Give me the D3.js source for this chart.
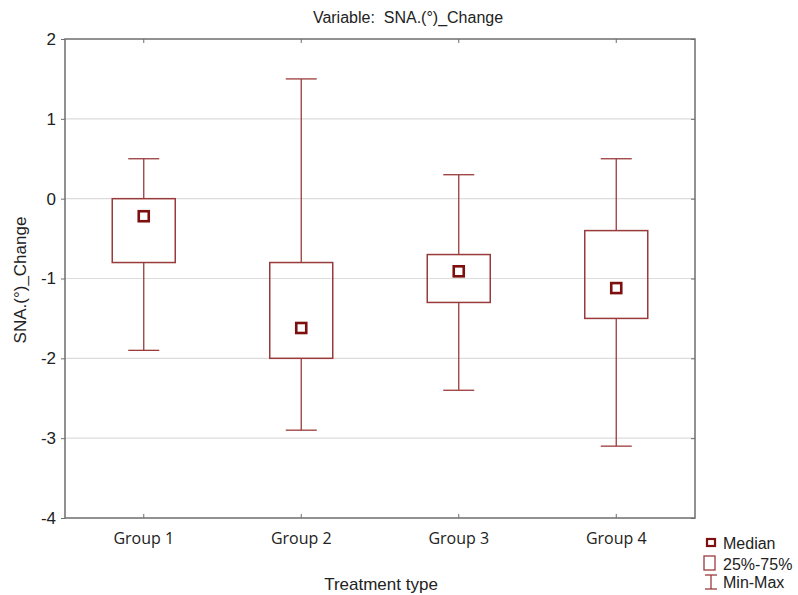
<!DOCTYPE html>
<html><head><meta charset="utf-8">
<script src="https://cdn.jsdelivr.net/npm/d3@7"></script>
<style>body{margin:0;background:#fff} text{white-space:pre}</style>
</head><body>
<svg id="c" width="798" height="595"></svg>
<script>
const categories = ["Group 1", "Group 2", "Group 3", "Group 4"];
const minVals    = [-1.9, -2.9, -2.4, -3.1];
const q1Vals     = [-0.8, -2.0, -1.3, -1.5];
const medianVals = [-0.22, -1.62, -0.91, -1.12];
const q3Vals     = [0.0, -0.8, -0.7, -0.4];
const maxVals    = [0.5, 1.5, 0.3, 0.5];
const yTicks     = [2, 1, 0, -1, -2, -3, -4];

const svg = d3.select("#c");
const L = 65, R = 695, T = 39, B = 518;
const x = d3.scaleBand().domain(categories).range([L, R]).padding(0);
const y = d3.scaleLinear().domain([-4, 2]).range([B, T]);
const col = "#9a3b3b", dark = "#7d0f0f";
const sans = "'Liberation Sans', Arial, sans-serif";

// gridlines
svg.append("g").selectAll("line").data(yTicks.filter(d => d > -4 && d < 2)).join("line")
  .attr("x1", L).attr("x2", R).attr("y1", d => y(d)).attr("y2", d => y(d))
  .attr("stroke", "#dcdcdc").attr("stroke-width", 1.2);

// axes
const fr = "#6e6e6e";
const gl = svg.append("g").attr("transform", `translate(${L},0)`)
  .call(d3.axisLeft(y).tickValues(yTicks).tickSize(4).tickPadding(5).tickFormat(d => String(d)));
const gr = svg.append("g").attr("transform", `translate(${R},0)`)
  .call(d3.axisLeft(y).tickValues(yTicks).tickSize(4).tickFormat(""));
const gt = svg.append("g").attr("transform", `translate(0,${T})`)
  .call(d3.axisBottom(x).tickSize(4).tickFormat(""));
const gb = svg.append("g").attr("transform", `translate(0,${B})`)
  .call(d3.axisTop(x).tickSize(4).tickFormat(""));
[gl, gr, gt, gb].forEach(g => {
  g.select(".domain").remove();
  g.selectAll("line").attr("stroke", fr);
});
gl.selectAll("text").attr("font-family", sans).attr("font-size", 17).attr("fill", "#222");
// frame
svg.append("rect").attr("x", L).attr("y", T).attr("width", R - L).attr("height", B - T)
  .attr("fill", "none").attr("stroke", fr).attr("stroke-width", 1.5);

// category labels
svg.append("g").selectAll("text").data(categories).join("text")
  .attr("x", d => x(d) + x.bandwidth() / 2).attr("y", 544)
  .attr("text-anchor", "middle").attr("font-family", "'Open Sans', sans-serif")
  .attr("font-size", 16).attr("fill", "#222").text(d => d);

// boxes
const bw = 63, cw = 31;
const g = svg.append("g").selectAll("g").data(categories).join("g")
  .attr("transform", d => `translate(${x(d) + x.bandwidth() / 2},0)`);
g.append("line").attr("y1", (d, i) => y(maxVals[i])).attr("y2", (d, i) => y(q3Vals[i]))
  .attr("stroke", col).attr("stroke-width", 1.3);
g.append("line").attr("y1", (d, i) => y(q1Vals[i])).attr("y2", (d, i) => y(minVals[i]))
  .attr("stroke", col).attr("stroke-width", 1.3);
g.append("line").attr("x1", -cw / 2).attr("x2", cw / 2)
  .attr("y1", (d, i) => y(maxVals[i])).attr("y2", (d, i) => y(maxVals[i]))
  .attr("stroke", col).attr("stroke-width", 1.3);
g.append("line").attr("x1", -cw / 2).attr("x2", cw / 2)
  .attr("y1", (d, i) => y(minVals[i])).attr("y2", (d, i) => y(minVals[i]))
  .attr("stroke", col).attr("stroke-width", 1.3);
g.append("rect").attr("x", -bw / 2).attr("width", bw)
  .attr("y", (d, i) => y(q3Vals[i])).attr("height", (d, i) => y(q1Vals[i]) - y(q3Vals[i]))
  .attr("fill", "none").attr("stroke", col).attr("stroke-width", 1.5);
g.append("rect").attr("x", -5).attr("width", 10).attr("height", 10)
  .attr("y", (d, i) => y(medianVals[i]) - 5)
  .attr("fill", "#fff").attr("stroke", dark).attr("stroke-width", 2.6);

// title & axis labels
svg.append("text").attr("x", 408).attr("y", 23).attr("text-anchor", "middle")
  .attr("font-family", sans).attr("font-size", 16).attr("fill", "#222")
  .text("Variable:  SNA.(°)_Change");
svg.append("text").attr("transform", "translate(26,280) rotate(-90)").attr("text-anchor", "middle")
  .attr("font-family", sans).attr("font-size", 17).attr("fill", "#222")
  .text("SNA.(°)_Change");
svg.append("text").attr("x", 381).attr("y", 590).attr("text-anchor", "middle")
  .attr("font-family", sans).attr("font-size", 17).attr("fill", "#222")
  .text("Treatment type");

// legend
const lg = svg.append("g");
lg.append("rect").attr("x", 707).attr("y", 539).attr("width", 8).attr("height", 7)
  .attr("fill", "#fff").attr("stroke", dark).attr("stroke-width", 2.2);
lg.append("rect").attr("x", 704).attr("y", 556).attr("width", 11).attr("height", 14)
  .attr("fill", "none").attr("stroke", col).attr("stroke-width", 1.3);
lg.append("line").attr("x1", 711).attr("x2", 711).attr("y1", 575).attr("y2", 589).attr("stroke", col).attr("stroke-width", 1.3);
lg.append("line").attr("x1", 705).attr("x2", 717).attr("y1", 575).attr("y2", 575).attr("stroke", col).attr("stroke-width", 1.3);
lg.append("line").attr("x1", 705).attr("x2", 717).attr("y1", 589).attr("y2", 589).attr("stroke", col).attr("stroke-width", 1.3);
const legTexts = ["Median", "25%-75%", "Min-Max"];
const legY = [549, 570, 588];
lg.selectAll("text").data(legTexts).join("text")
  .attr("x", 723).attr("y", (d, i) => legY[i])
  .attr("font-family", sans).attr("font-size", 16).attr("fill", "#222").text(d => d);
</script>
</body></html>
